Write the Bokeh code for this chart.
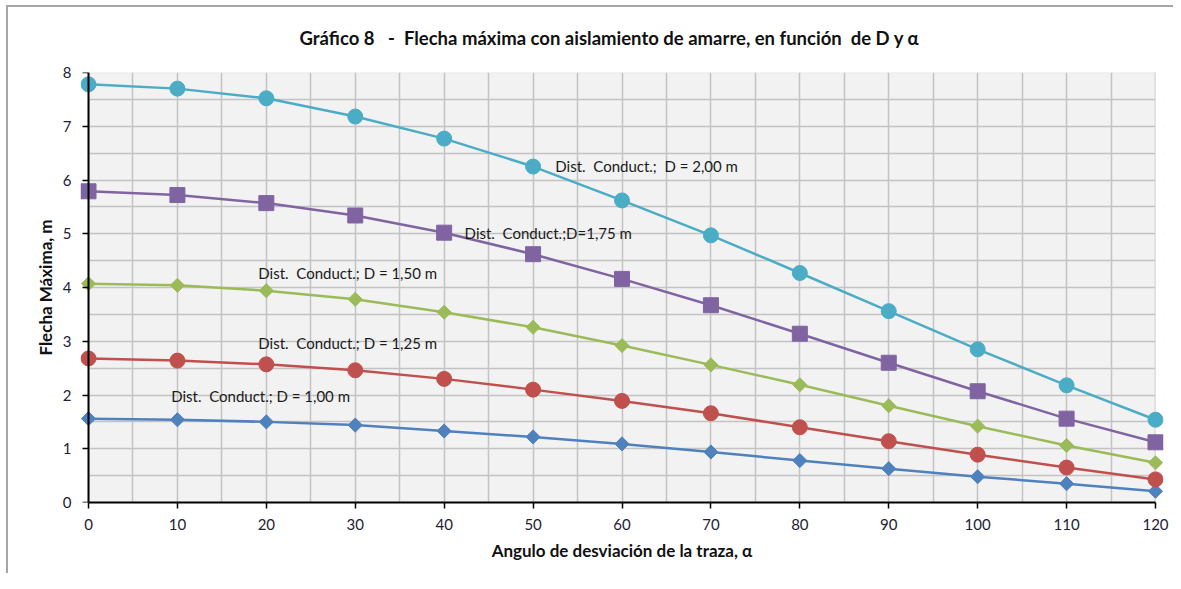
from bokeh.plotting import figure
from bokeh.models import ColumnDataSource, SingleIntervalTicker, Range1d, BoxAnnotation, LinearAxis
from bokeh.core.properties import value
from bokeh.embed import file_html
from bokeh.resources import INLINE
import math

# ---- data ----
alpha = [0, 10, 20, 30, 40, 50, 60, 70, 80, 90, 100, 110, 120]
d200 = [7.78, 7.70, 7.52, 7.18, 6.77, 6.25, 5.62, 4.97, 4.27, 3.56, 2.85, 2.18, 1.54]
d175 = [5.79, 5.72, 5.57, 5.34, 5.02, 4.62, 4.16, 3.67, 3.14, 2.60, 2.07, 1.56, 1.12]
d150 = [4.07, 4.04, 3.94, 3.78, 3.54, 3.26, 2.92, 2.56, 2.19, 1.80, 1.42, 1.06, 0.74]
d125 = [2.68, 2.64, 2.57, 2.46, 2.30, 2.10, 1.89, 1.66, 1.40, 1.14, 0.89, 0.65, 0.43]
d100 = [1.56, 1.54, 1.50, 1.44, 1.33, 1.22, 1.09, 0.94, 0.78, 0.63, 0.48, 0.35, 0.21]

NB = "\u00a0"
label_text = ["Dist." + NB + " Conduct.;" + NB + " D = 2,00" + NB + "m",
              "Dist." + NB + " Conduct.;D=1,75 m",
              "Dist." + NB + " Conduct.; D = 1,50" + NB + "m",
              "Dist." + NB + " Conduct.; D = 1,25" + NB + "m",
              "Dist." + NB + " Conduct.; D = 1,00" + NB + "m"]
label_x = [52.5, 42.3, 19.1, 19.1, 9.3]
label_y = [6.26, 5.01, 4.27, 2.97, 1.99]

title_text = "Gráfico 8" + NB * 2 + " -" + NB + " Flecha máxima con aislamiento de amarre, en función" + NB + " de D y α"
xlabel = "Angulo de desviación de la traza, α"
ylabel = "Flecha Máxima, m"

X_MIN, X_MAX, Y_MIN, Y_MAX = 0, 120, 0, 8
PAD = 0.9

FONT = "Lato"
FRAME_COL = "#a6a6a6"
W, H = 1173, 573

p = figure(width=W, height=H, output_backend="svg", toolbar_location=None,
           x_range=Range1d(X_MIN - PAD, X_MAX + PAD), y_range=Range1d(Y_MIN, Y_MAX),
           min_border_left=80, min_border_right=10, min_border_top=72, min_border_bottom=71)

p.background_fill_color = "white"
p.border_fill_color = "white"
p.border_fill_alpha = 0
p.outline_line_color = None
p.styles = {
    "background": (f"linear-gradient({FRAME_COL},{FRAME_COL}) 6px 5px / {W - 6}px 2px no-repeat, "
                   f"linear-gradient({FRAME_COL},{FRAME_COL}) 6px 5px / 2px {H - 5}px no-repeat, #ffffff")
}

# plot area (gray) exactly over the data limits
area = BoxAnnotation(left=X_MIN, right=X_MAX, bottom=Y_MIN, top=Y_MAX,
                     fill_color="#f2f2f2", fill_alpha=1.0,
                     line_color="#c0c0c0", line_width=1.5, level="image")
p.add_layout(area)

p.title.text = title_text
p.title.align = "left"
p.title.offset = 219
p.title.standoff = 47
p.title.text_font = FONT
p.title.text_font_size = "18.5px"
p.title.text_font_style = "bold"
p.title.text_color = "#111111"

# extra left axis carrying only the tick labels and the axis title
ylab_axis = LinearAxis(ticker=SingleIntervalTicker(interval=1))
p.add_layout(ylab_axis, "left")

for ax in (p.xaxis[0], p.yaxis[0], ylab_axis):
    ax.axis_line_color = "black"
    ax.axis_line_width = 2
    ax.major_tick_line_color = "black"
    ax.major_tick_line_width = 1.5
    ax.major_tick_out = 6
    ax.major_tick_in = 0
    ax.minor_tick_line_color = None
    ax.major_label_text_font = FONT
    ax.major_label_text_font_size = "15px"
    ax.major_label_text_color = "#222233"
    ax.axis_label_text_font = FONT
    ax.axis_label_text_font_size = "17px"
    ax.axis_label_text_font_style = "bold"
    ax.axis_label_text_color = "#111111"

yfix = p.yaxis[0]
yfix.ticker = SingleIntervalTicker(interval=1)
yfix.fixed_location = X_MIN
yfix.major_label_text_color = None

ylab_axis.axis_line_color = None
ylab_axis.major_tick_line_color = None
ylab_axis.major_tick_out = 0
ylab_axis.major_label_standoff = 5
ylab_axis.axis_label = ylabel
ylab_axis.axis_label_standoff = 4

p.xaxis.ticker = SingleIntervalTicker(interval=10)
p.xaxis.bounds = (X_MIN, X_MAX)
p.xaxis.major_label_standoff = 10
p.xaxis.axis_label = xlabel
p.xaxis.axis_label_standoff = 7

p.xgrid.ticker = SingleIntervalTicker(interval=5)
p.ygrid.ticker = SingleIntervalTicker(interval=0.5)
for g in (p.xgrid, p.ygrid):
    g.grid_line_color = "#c3c3c3"
    g.grid_line_width = 1.5

# white covers for the padding strips (so grid lines stop at 0 and 120)
cover_l = BoxAnnotation(left=X_MIN - PAD, right=X_MIN, bottom=Y_MIN, top=Y_MAX,
                        fill_color="white", fill_alpha=1.0, line_color=None, level="glyph")
cover_r = BoxAnnotation(left=X_MAX, right=X_MAX + PAD, bottom=Y_MIN, top=Y_MAX,
                        fill_color="white", fill_alpha=1.0, line_color=None, level="glyph")
p.renderers.extend([cover_l, cover_r])

series = [
    (d100, "#4f81bd", "diamond"),
    (d125, "#c0504d", "circle"),
    (d150, "#9bbb59", "diamond"),
    (d175, "#8064a2", "square"),
    (d200, "#4bacc6", "circle"),
]
for ys, col, mk in series:
    src = ColumnDataSource(dict(x=alpha, y=ys))
    p.line("x", "y", source=src, line_color=col, line_width=2.5)
    if mk == "circle":
        p.scatter("x", "y", source=src, marker="circle", size=15, fill_color=col, line_color=col)
    elif mk == "square":
        p.scatter("x", "y", source=src, marker="square", size=15, fill_color=col, line_color=col)
    else:
        p.scatter("x", "y", source=src, marker="square", size=10, angle=math.pi / 4,
                  fill_color=col, line_color=col)

lsrc = ColumnDataSource(dict(x=label_x, y=label_y, t=label_text))
p.text("x", "y", text="t", source=lsrc, text_font=value(FONT), text_font_size="15px",
       text_color="#1a1a1a", text_baseline="middle", text_align="left")

open("out.html", "w").write(file_html(p, INLINE))
